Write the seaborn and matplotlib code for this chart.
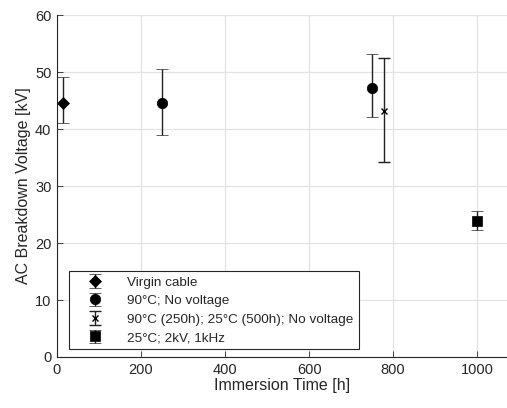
import matplotlib
matplotlib.use("Agg")
import matplotlib.pyplot as plt
import seaborn as sns
import numpy as np

labels = ["Virgin cable", "90°C; No voltage", "90°C (250h); 25°C (500h); No voltage", "25°C; 2kV, 1kHz"]
series_x = [[14], [250, 750], [778], [1000]]
series_y = [[44.6], [44.5, 47.2], [43.2], [23.8]]
series_lo = [[41.1], [39.0, 42.2], [34.3], [22.3]]
series_hi = [[49.1], [50.5, 53.2], [52.4], [25.6]]
markers = ["D", "o", "x", "s"]
msizes = [6, 7.5, 5, 6.5]

sns.set_theme(style="whitegrid")
plt.rcParams['font.family'] = ['Liberation Sans', 'DejaVu Sans']

fig = plt.figure(figsize=(5.07, 4.08), dpi=100)
ax = fig.add_axes([0.1124, 0.125, 0.8876, 0.838])

for lab, xs, ys, lo, hi, m, ms in zip(labels, series_x, series_y, series_lo, series_hi, markers, msizes):
    ys = np.array(ys); lo = np.array(lo); hi = np.array(hi)
    ax.errorbar(xs, ys, yerr=[ys - lo, hi - ys], fmt=m, color="black", ms=ms,
                mew=1 if m == "x" else 0.5, ecolor="#222222", elinewidth=1, capsize=4, capthick=1,
                label=lab)

ax.set_xlim(0, 1071)
ax.set_ylim(0, 60)
ax.set_xticks([0, 200, 400, 600, 800, 1000])
ax.set_yticks([0, 10, 20, 30, 40, 50, 60])
ax.grid(True, color="#e3e3e3", linewidth=0.9)
ax.set_facecolor("white")
for s in ["top", "right"]:
    ax.spines[s].set_visible(False)
for s in ["left", "bottom"]:
    ax.spines[s].set_color("#262626")
    ax.spines[s].set_linewidth(0.8)
ax.tick_params(axis="both", direction="in", length=4, width=0.6, color="#262626",
               labelsize=10.5, labelcolor="#262626", pad=4, left=True, bottom=True)
ax.set_xlabel("Immersion Time [h]", fontsize=11.5, color="#262626", labelpad=1)
ax.set_ylabel("AC Breakdown Voltage [kV]", fontsize=11.5, color="#262626", labelpad=3)

leg = ax.legend(loc="lower left", bbox_to_anchor=(0.027, 0.022), fontsize=9.7, frameon=True,
                fancybox=False, edgecolor="#262626", framealpha=1, borderpad=0.4,
                labelspacing=0.45, handletextpad=0.9, handlelength=3.0, borderaxespad=0)
leg.get_frame().set_linewidth(0.8)

fig.savefig("out.png", dpi=100)
